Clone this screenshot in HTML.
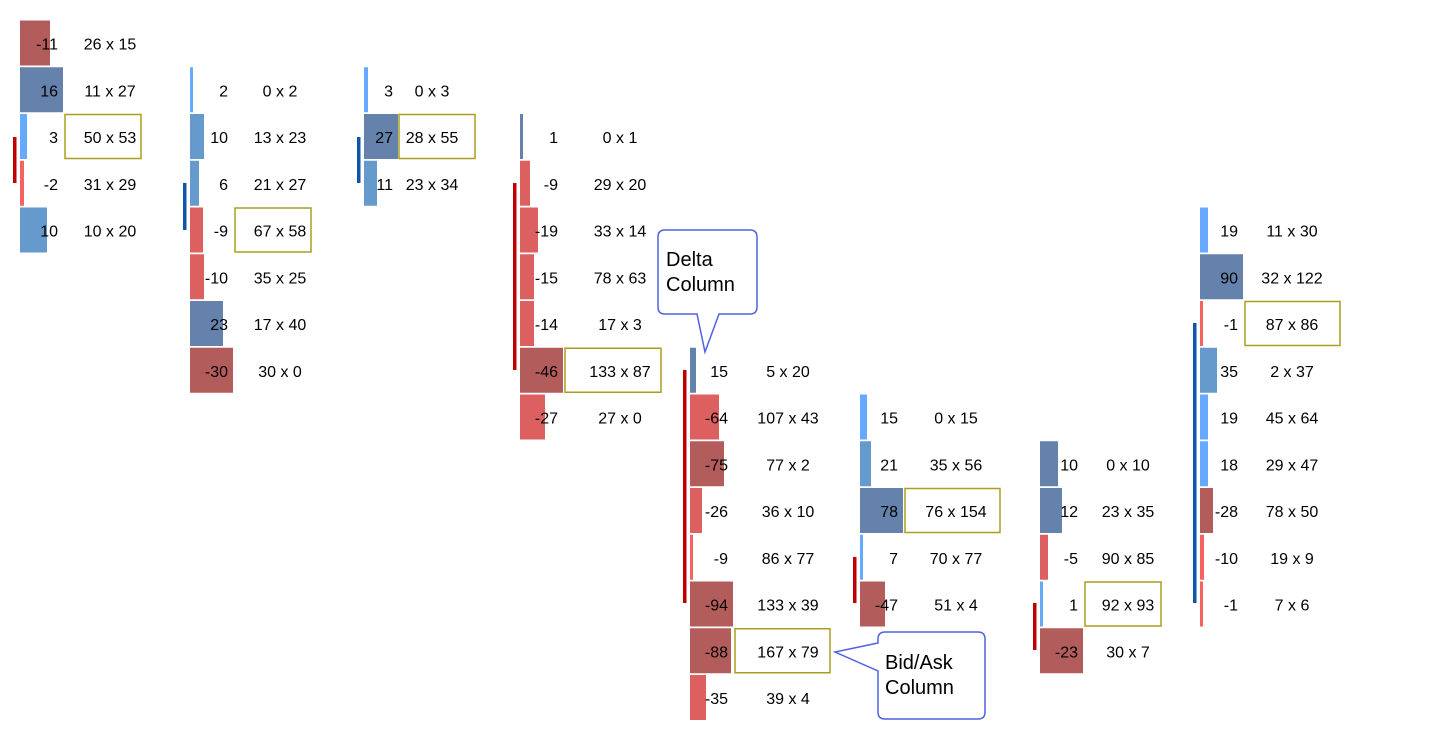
<!DOCTYPE html>
<html><head><meta charset="utf-8"><style>
html,body{margin:0;padding:0;background:#fff}
svg text{font-family:"Liberation Sans",Arial,sans-serif;font-size:16px;fill:#000}
</style></head><body>
<svg width="1429" height="737" xmlns="http://www.w3.org/2000/svg" id="s"></svg>
<script>
const C={dr:'#b35c5c',r:'#dc6060',lr:'#f56262',st:'#6482ab',mb:'#6699cc',lb:'#66aaff'};
const cols=[
 {l:20,dr:58,c:110,box:[65,141],side:['#c00000',13,137,183],rows:[[0,-11,'dr',30,'26 x 15'],[1,16,'st',43,'11 x 27'],[2,3,'lb',7,'50 x 53',1],[3,-2,'lr',4,'31 x 29'],[4,10,'mb',27,'10 x 20']]},
 {l:190,dr:228,c:280,box:[235,311],side:['#1155aa',183,183,230],rows:[[1,2,'lb',3,'0 x 2'],[2,10,'mb',14,'13 x 23'],[3,6,'mb',9,'21 x 27'],[4,-9,'r',13,'67 x 58',1],[5,-10,'r',14,'35 x 25'],[6,23,'st',33,'17 x 40'],[7,-30,'dr',43,'30 x 0']]},
 {l:364,dr:393,c:432,box:[399,475],side:['#1155aa',357,137,183],rows:[[1,3,'lb',4,'0 x 3'],[2,27,'st',34,'28 x 55',1],[3,11,'mb',13,'23 x 34']]},
 {l:520,dr:558,c:620,box:[565,661],side:['#c00000',513,183,370],rows:[[2,1,'st',3,'0 x 1'],[3,-9,'r',10,'29 x 20'],[4,-19,'r',18,'33 x 14'],[5,-15,'r',14,'78 x 63'],[6,-14,'r',14,'17 x 3'],[7,-46,'dr',43,'133 x 87',1],[8,-27,'r',25,'27 x 0']]},
 {l:690,dr:728,c:788,box:[735,830],side:['#c00000',683,370,603],rows:[[7,15,'st',6,'5 x 20'],[8,-64,'r',29,'107 x 43'],[9,-75,'dr',34,'77 x 2'],[10,-26,'r',12,'36 x 10'],[11,-9,'lr',3,'86 x 77'],[12,-94,'dr',43,'133 x 39'],[13,-88,'dr',41,'167 x 79',1],[14,-35,'r',16,'39 x 4']]},
 {l:860,dr:898,c:956,box:[905,1000],side:['#c00000',853,557,603],rows:[[8,15,'lb',7,'0 x 15'],[9,21,'mb',11,'35 x 56'],[10,78,'st',43,'76 x 154',1],[11,7,'lb',3,'70 x 77'],[12,-47,'dr',25,'51 x 4']]},
 {l:1040,dr:1078,c:1128,box:[1085,1161],side:['#c00000',1033,603,650],rows:[[9,10,'st',18,'0 x 10'],[10,12,'st',22,'23 x 35'],[11,-5,'r',8,'90 x 85'],[12,1,'lb',3,'92 x 93',1],[13,-23,'dr',43,'30 x 7']]},
 {l:1200,dr:1238,c:1292,box:[1245,1340],side:['#1155aa',1193,323,603],rows:[[4,19,'lb',8,'11 x 30'],[5,90,'st',43,'32 x 122'],[6,-1,'lr',3,'87 x 86',1],[7,35,'mb',17,'2 x 37'],[8,19,'lb',8,'45 x 64'],[9,18,'lb',8,'29 x 47'],[10,-28,'dr',13,'78 x 50'],[11,-10,'lr',4,'19 x 9'],[12,-1,'lr',3,'7 x 6']]}
];
let h='';
for(const c of cols){
 const sd=c.side;h+=`<rect x="${sd[1]}" y="${sd[2]}" width="3.5" height="${sd[3]-sd[2]}" fill="${sd[0]}"/>`;
 for(const r of c.rows){
  const t=20.5+46.75*r[0];
  h+=`<rect x="${c.l}" y="${t}" width="${r[3]}" height="45" fill="${C[r[2]]}"/>`;
  if(r[5])h+=`<rect x="${c.box[0]}" y="${t+0.5}" width="${c.box[1]-c.box[0]}" height="44" fill="none" stroke="#aa9e1e" stroke-width="1.5"/>`;
  h+=`<text x="${c.dr}" y="${t+29}" text-anchor="end">${r[1]}</text>`;
  h+=`<text x="${c.c}" y="${t+29}" text-anchor="middle">${r[4]}</text>`;
 }
}
h+=`<path d="M665,230 H750 Q757,230 757,237 V307 Q757,314 750,314 H719 L705,352 L697,314 H665 Q658,314 658,307 V237 Q658,230 665,230 Z" fill="#fff" stroke="#4f62e0" stroke-width="1.5"/>`;
h+=`<text x="666" y="266" style="font-size:20px">Delta</text><text x="666" y="291" style="font-size:20px">Column</text>`;
h+=`<path d="M885,632 H978 Q985,632 985,639 V712 Q985,719 978,719 H885 Q878,719 878,712 V671 L835,652 L878,643 V639 Q878,632 885,632 Z" fill="#fff" stroke="#4f62e0" stroke-width="1.5"/>`;
h+=`<text x="885" y="669" style="font-size:20px">Bid/Ask</text><text x="885" y="694" style="font-size:20px">Column</text>`;
document.getElementById('s').innerHTML=h;
</script>
</body></html>
